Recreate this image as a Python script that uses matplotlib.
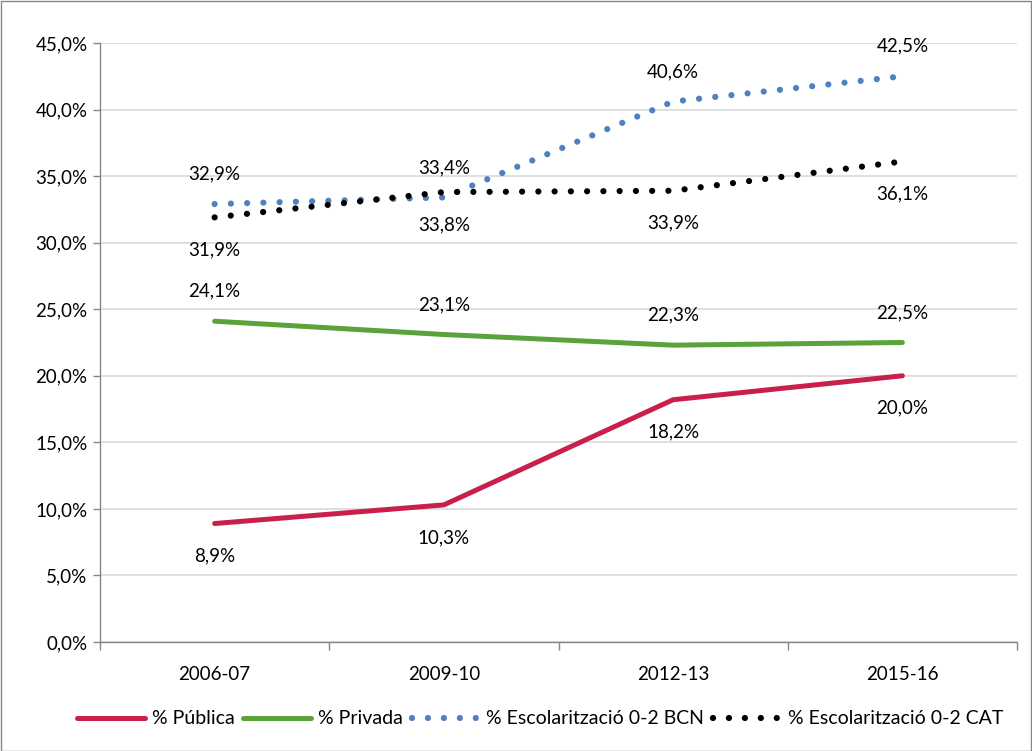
import matplotlib
matplotlib.use("Agg")
import matplotlib.pyplot as plt
from matplotlib.patches import Rectangle
from matplotlib.lines import Line2D
import numpy as np

plt.rcParams['font.family'] = ['Lato', 'DejaVu Sans']

categories = ["2006-07", "2009-10", "2012-13", "2015-16"]
publica = [8.9, 10.3, 18.2, 20.0]
privada = [24.1, 23.1, 22.3, 22.5]
bcn = [32.9, 33.4, 40.6, 42.5]
cat = [31.9, 33.8, 33.9, 36.1]

series_names = ["% Pública", "% Privada", "% Escolarització 0-2 BCN", "% Escolarització 0-2 CAT"]
colors = ["#C8204A", "#5AA23C", "#4F81BD", "#000000"]
label_side = [-1, 1, 1, -1]  # below / above

def fmt(v):
    return f"{v:.1f}".replace(".", ",") + "%"

FS = 13.5
W, H = 1032, 751
fig = plt.figure(figsize=(W / 100, H / 100), dpi=100)
ax = fig.add_axes([100 / W, 1 - 642 / H, (1017 - 100) / W, (642 - 43) / H])

x = np.arange(len(categories))
data = [publica, privada, bcn, cat]
for k, (vals, col) in enumerate(zip(data, colors)):
    if k < 2:
        ax.plot(x, vals, color=col, lw=3.6, solid_capstyle='round', solid_joinstyle='round', zorder=3)
    else:
        ax.plot(x, vals, color=col, lw=4.5, linestyle=(0, (0.001, 2.6)),
                dash_capstyle='round', zorder=3 + k)
    for i, v in enumerate(vals):
        off = 21.6 if label_side[k] > 0 else -23.4
        ax.annotate(fmt(v), (x[i], v), xytext=(0, off), textcoords='offset points',
                    ha='center', va='center', fontsize=FS, color='#000000')

ax.set_xlim(-0.5, 3.5)
ax.set_ylim(0, 45)
yt = np.arange(0, 45.1, 5)
ax.set_yticks(yt)
ax.set_yticklabels([fmt(v) for v in yt], fontsize=FS)
ax.set_xticks(x)
ax.set_xticklabels(categories, fontsize=FS)
ax.set_xticks(np.arange(-0.5, 3.6, 1), minor=True)
ax.tick_params(axis='x', which='major', length=0, pad=17)
ax.tick_params(axis='x', which='minor', length=6, color='#868686', width=1)
ax.tick_params(axis='y', length=5, color='#868686', width=1, pad=4)
ax.grid(axis='y', color='#D9D9D9', lw=1.2)
ax.set_axisbelow(True)
for s in ['top', 'right']:
    ax.spines[s].set_visible(False)
for s in ['left', 'bottom']:
    ax.spines[s].set_color('#868686')
    ax.spines[s].set_linewidth(1)

handles = [
    Line2D([], [], color=colors[0], lw=3.6, solid_capstyle='round'),
    Line2D([], [], color=colors[1], lw=3.6, solid_capstyle='round'),
    Line2D([], [], color=colors[2], lw=4.5, linestyle=(0, (0.001, 2.55)), dash_capstyle='round'),
    Line2D([], [], color=colors[3], lw=4.5, linestyle=(0, (0.001, 2.55)), dash_capstyle='round'),
]
fig.legend(handles, series_names, loc='center', bbox_to_anchor=(540 / W, 1 - 719 / H), ncol=4,
           frameon=False, fontsize=14, handlelength=3.5, handletextpad=0.35, columnspacing=0.45)

fig.patches.append(Rectangle((0.5 / W, 0.5 / H), 1 - 1.5 / W, 1 - 1.5 / H, transform=fig.transFigure,
                             fill=False, edgecolor='#868686', lw=1))

fig.savefig("out.png", dpi=100)
